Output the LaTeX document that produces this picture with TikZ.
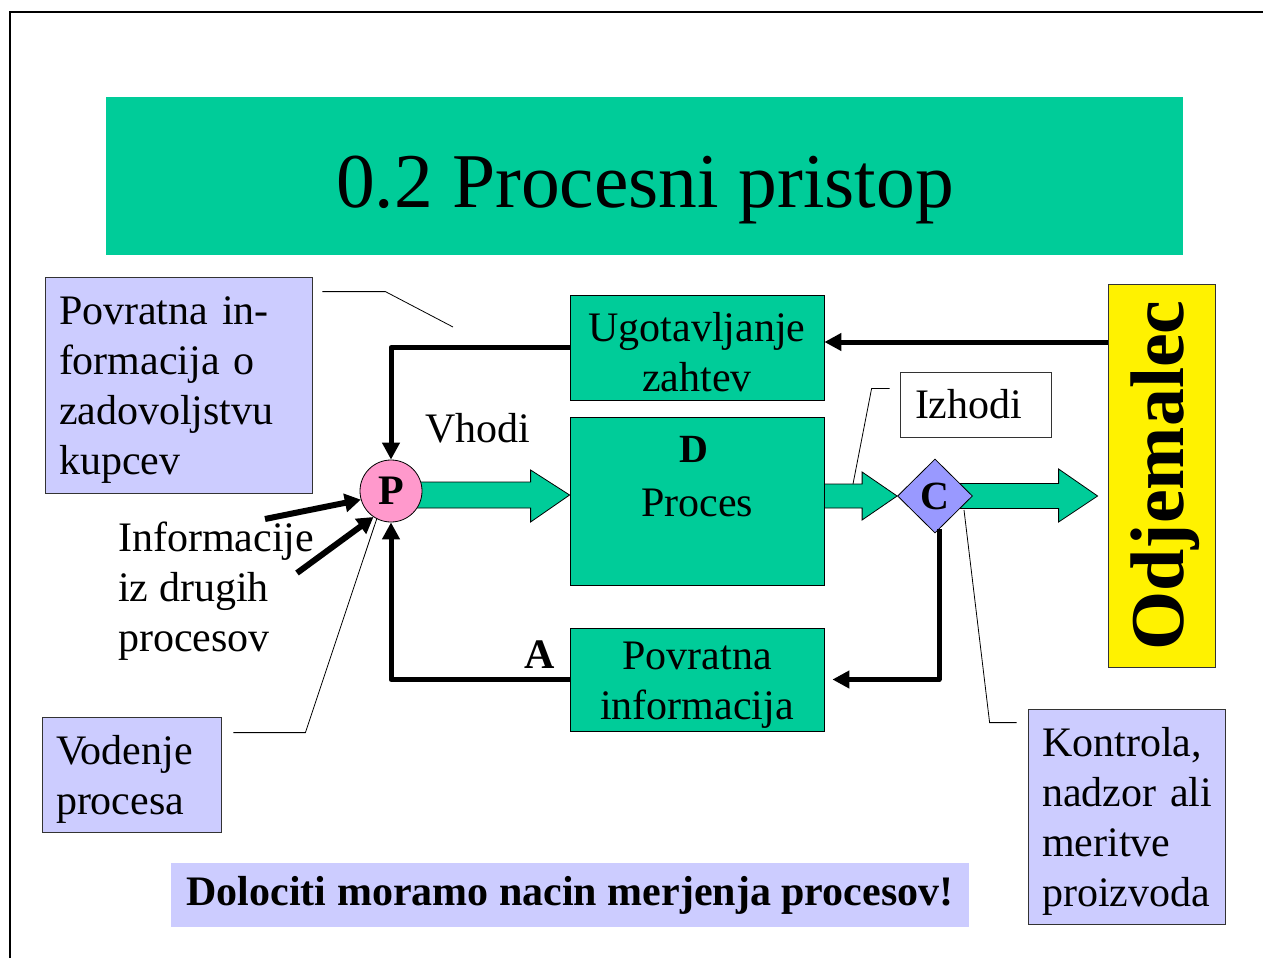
\documentclass[tikz,border=0pt]{standalone}
\usepackage{fontspec}
\setmainfont{Liberation Serif}
\usetikzlibrary{shapes.geometric,arrows.meta,calc,backgrounds}
\definecolor{procgreen}{HTML}{00CC99}
\definecolor{notelilac}{HTML}{CCCCFF}
\definecolor{pnode}{HTML}{FF99CC}
\definecolor{cnode}{HTML}{9999FF}
\definecolor{edgegray}{HTML}{333333}
% strut that gives the first line of a box its full ascender height
\newcommand{\firstline}{\rule{0pt}{38pt}}

\begin{document}
\begin{tikzpicture}[x=1pt,y=-1pt,
  txt/.style={font=\fontsize{42}{50}\selectfont, inner sep=0pt},
  boldtxt/.style={font=\fontsize{42}{50}\selectfont\bfseries, inner sep=0pt},
  procbox/.style={txt, draw=black, line width=0.8pt, fill=procgreen, align=center},
  notebox/.style={txt, draw=edgegray, line width=0.8pt, fill=notelilac, align=left, inner xsep=14pt},
  thickarrow/.style={line width=5pt, line join=round, -{Triangle[length=17pt,width=17pt]}},
  infarrow/.style={line width=6pt, -{Triangle[length=16pt,width=18pt]}},
  leader/.style={line width=0.8pt},
  blockarrow/.style={fill=procgreen, draw=black, line width=0.8pt, line join=miter}
]
\useasboundingbox (0,0) rectangle (1263,958);

% slide frame
\draw[line width=2pt] (10,958) -- (10,12) -- (1263,12);

% title
\node[fill=procgreen, minimum width=1077pt, minimum height=158pt, inner sep=0pt] (title) at (644.5,176) {};
\node[anchor=base, font=\fontsize{77.5}{84}\selectfont, inner sep=0pt] (ttext) at (645,207) {0.2 Procesni pristop};

% process boxes
\node[procbox, minimum width=254pt, minimum height=105pt] (ug) at (697,347.5) {\firstline Ugotavljanje\\zahtev};
\node[procbox, minimum width=254pt, minimum height=168pt] (D) at (697,501) {};
\node[font=\fontsize{40}{48}\selectfont\bfseries, inner sep=0pt] (dlab) at (694,449) {D};
\node[txt] (proc) at (697,503) {Proces};
\node[procbox, minimum width=254pt, minimum height=103pt] (pa) at (697,679.5) {\firstline Povratna\\informacija};

% decision points
\node[circle, draw, line width=0.8pt, fill=pnode, minimum size=62pt, inner sep=0pt, boldtxt] (P) at (391,491) {P};
\node[diamond, draw, line width=0.8pt, fill=cnode, minimum width=75pt, minimum height=74pt, inner sep=0pt, aspect=1,
      font=\fontsize{40}{48}\selectfont\bfseries] (C) at (935,496) {C};

% customer
\node[draw=edgegray, line width=0.8pt, fill=yellow, minimum width=107pt, minimum height=383pt, inner sep=0pt] (odj) at (1161.5,475.5) {};
\node[rotate=90, inner sep=0pt, font=\fontsize{76}{80}\selectfont\bfseries] (odjtxt) at (1165,475.5) {Odjemalec};

% labels and notes
\node[txt, draw=edgegray, line width=0.8pt, fill=white, text width=121pt, inner xsep=15pt, minimum height=65pt, align=left] (izh) at (975.5,404.5) {Izhodi};
\node[notebox, text width=239pt, minimum height=216pt] (fb) at (178.5,385) {\firstline Povratna in-\\formacija o\\zadovoljstvu\\kupcev};
\node[notebox, text width=169pt, minimum height=215pt] (kon) at (1126.5,816.5) {\firstline Kontrola,\\nadzor~ali\\meritve\\proizvoda};
\node[notebox, text width=151pt, minimum height=115pt] (vod) at (131.5,774.5) {\firstline Vodenje\\procesa};
\node[fill=notelilac, minimum width=798pt, minimum height=64pt, inner sep=0pt, boldtxt] (note) at (570,895) {Dolociti moramo nacin merjenja procesov!};
\node[txt] (vh) at (478,428) {Vhodi};
\node[boldtxt] (alab) at (540,655) {A};
\node[txt, align=left, anchor=west] (inf) at (118,587) {\firstline Informacije\\iz drugih\\procesov};

% block arrows (behind the nodes)
\begin{scope}[on background layer]
  \coordinate (t1) at ([yshift=6pt]D.west);
  \draw[blockarrow] ($(P.center)+(0,-9)$) -- ($(t1)+(-39,-13)$) -- ($(t1)+(-39,-25)$) -- (t1)
     -- ($(t1)+(-39,27)$) -- ($(t1)+(-39,13)$) -- ($(P.center)+(0,17)$) -- cycle;
  \draw[blockarrow] ($(D.east |- C.west)+(0,-12)$) -- ($(C.west)+(-35,-12)$) -- ($(C.west)+(-35,-24)$) -- (C.west)
     -- ($(C.west)+(-35,24)$) -- ($(C.west)+(-35,12)$) -- ($(D.east |- C.west)+(0,12)$) -- cycle;
  \coordinate (t3) at ($(odj.west |- C.center)+(-10,0)$);
  \draw[blockarrow] ($(C.center)+(0,-12.5)$) -- ($(t3)+(-39,-12.5)$) -- ($(t3)+(-39,-27)$) -- (t3)
     -- ($(t3)+(-39,26)$) -- ($(t3)+(-39,12.5)$) -- ($(C.center)+(0,12.5)$) -- cycle;
\end{scope}

% feedback loops
\coordinate (ugin) at ([yshift=5.5pt]ug.east);
\coordinate (cout) at ([xshift=4pt,yshift=4pt]C.south);
\draw[thickarrow] (odj.west |- ugin) -- (ugin);
\draw[thickarrow] (ug.west) -- (P.north |- ug.west) -- (P.north);
\draw[thickarrow] (cout) -- (cout |- pa.east) -- ([xshift=8pt]pa.east);
\draw[thickarrow] (pa.west) -- (P.south |- pa.west) -- (P.south);

% information from other processes
\coordinate (i1) at (265,519);
\coordinate (i2) at (297,573);
\draw[infarrow] (i1) -- (P.196);
\draw[infarrow] (i2) -- (P.236);

% callout leaders
\coordinate (fbend) at (453,327);
\coordinate (izend) at (853,484);
\coordinate (vodend) at (377,518);
\coordinate (konend) at (964,510);
\draw[leader] ([shift={(10,15)}]fb.north east) -- ++(63,0) -- (fbend);
\draw[leader] ([shift={(-10,-16)}]izh.west) -- ++(-18,0) -- (izend);
\draw[leader] ([shift={(12,16)}]vod.north east) -- ++(72,0) -- (vodend);
\draw[leader] ([shift={(-11,14)}]kon.north west) -- ++(-27,0) -- (konend);
\end{tikzpicture}
\end{document}
